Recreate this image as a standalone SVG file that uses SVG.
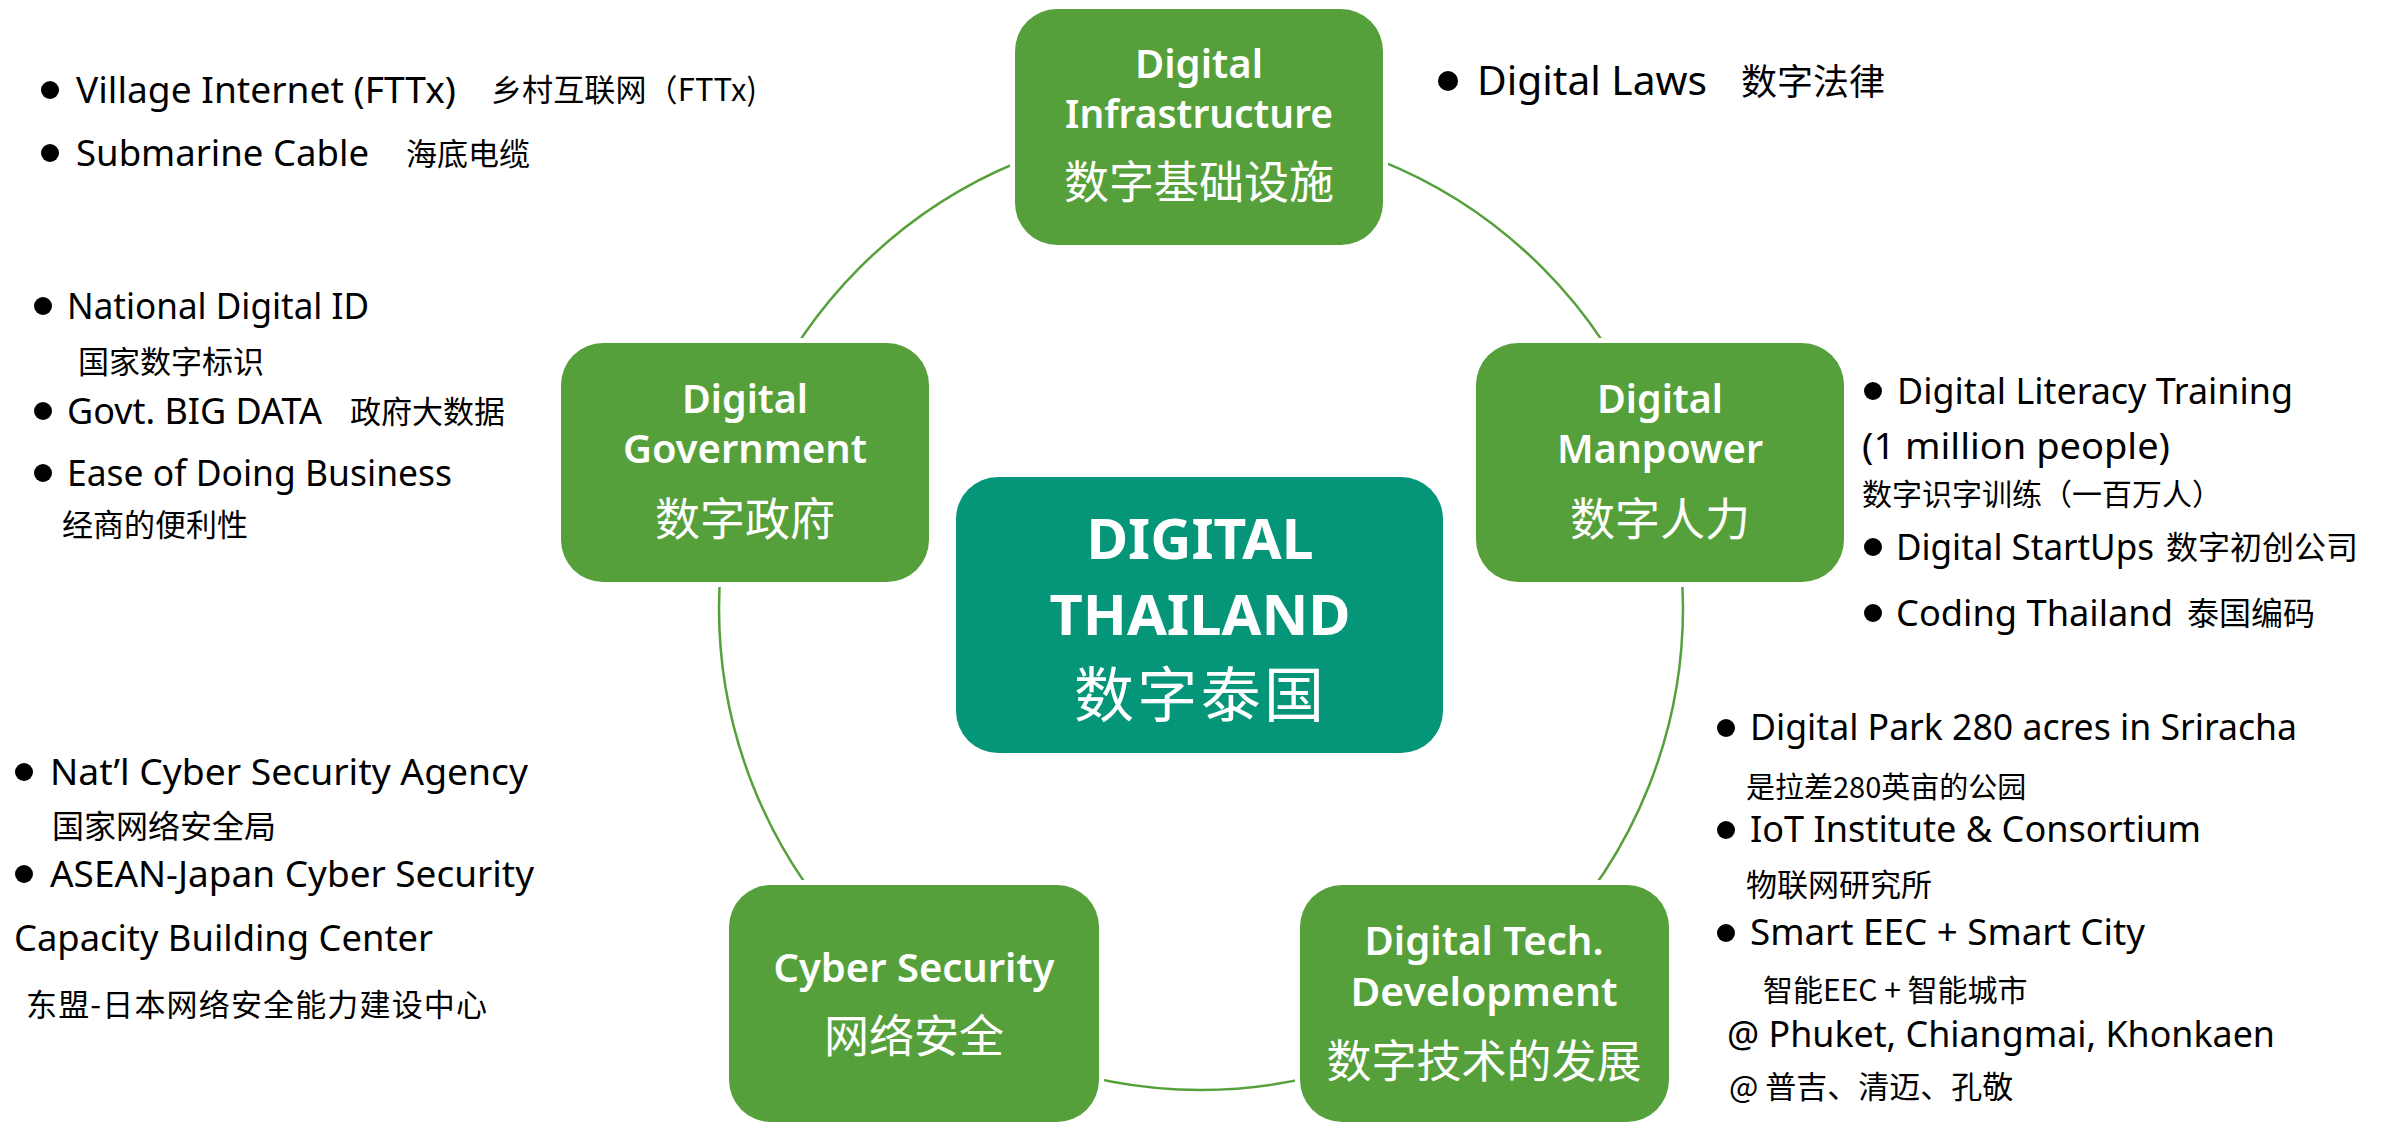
<svg xmlns="http://www.w3.org/2000/svg" width="2384" height="1122" viewBox="0 0 2384 1122">
<style>
.bg{fill:#ffffff}
.ring{fill:none;stroke:#56A03B;stroke-width:2.5}
.node{fill:#56A03B;stroke:#ffffff;stroke-width:10;paint-order:stroke}
.hub{fill:#05967A;stroke:#ffffff;stroke-width:10;paint-order:stroke}
.t{fill:#ffffff;font-family:"Noto Sans","Open Sans",sans-serif;font-weight:600;font-size:40px;text-anchor:middle}
.tc{fill:#ffffff;font-family:"Noto Sans CJK SC",sans-serif;font-size:45px;text-anchor:middle}
.h{fill:#ffffff;font-family:"Noto Sans","Open Sans",sans-serif;font-weight:700;font-size:56px;text-anchor:middle}
.hc{fill:#ffffff;font-family:"Noto Sans CJK SC",sans-serif;font-size:60px;text-anchor:middle}
.en{fill:#000000;font-family:"Noto Sans","Open Sans",sans-serif;font-size:36px}
.cn{fill:#000000;font-family:"Noto Sans CJK SC",sans-serif;font-size:30px}
.dot{fill:#000000}
</style>
<rect class="bg" x="0" y="0" width="2384" height="1122"/>
<g id="connectors">
<circle class="ring" cx="1201" cy="608" r="482"/>
</g>
<g id="node-infrastructure">
<rect class="node" x="1015" y="9" width="368" height="236" rx="42"/>
<text class="t" x="1199" y="78" textLength="128" lengthAdjust="spacingAndGlyphs">Digital</text>
<text class="t" x="1199" y="128" textLength="268" lengthAdjust="spacingAndGlyphs">Infrastructure</text>
<text class="tc" x="1199" y="199">数字基础设施</text>
</g>
<g id="node-government">
<rect class="node" x="561" y="343" width="368" height="239" rx="42"/>
<text class="t" x="745" y="413" textLength="126" lengthAdjust="spacingAndGlyphs">Digital</text>
<text class="t" x="745" y="463" textLength="244" lengthAdjust="spacingAndGlyphs">Government</text>
<text class="tc" x="745" y="536">数字政府</text>
</g>
<g id="node-manpower">
<rect class="node" x="1476" y="343" width="368" height="239" rx="42"/>
<text class="t" x="1660" y="413" textLength="126" lengthAdjust="spacingAndGlyphs">Digital</text>
<text class="t" x="1660" y="463" textLength="206" lengthAdjust="spacingAndGlyphs">Manpower</text>
<text class="tc" x="1660" y="536">数字人力</text>
</g>
<g id="node-thailand">
<rect class="hub" x="956" y="477" width="487" height="276" rx="42"/>
<text class="h" x="1200" y="559" textLength="227" lengthAdjust="spacingAndGlyphs">DIGITAL</text>
<text class="h" x="1200" y="635" textLength="301" lengthAdjust="spacingAndGlyphs">THAILAND</text>
<text class="hc" x="1199" y="717" textLength="250">数字泰国</text>
</g>
<g id="node-cyber">
<rect class="node" x="729" y="885" width="370" height="237" rx="42"/>
<text class="t" x="914" y="982" textLength="281" lengthAdjust="spacingAndGlyphs">Cyber Security</text>
<text class="tc" x="914" y="1053">网络安全</text>
</g>
<g id="node-techdev">
<rect class="node" x="1300" y="885" width="369" height="237" rx="42"/>
<text class="t" x="1484" y="955" textLength="239" lengthAdjust="spacingAndGlyphs">Digital Tech.</text>
<text class="t" x="1484" y="1006" textLength="267" lengthAdjust="spacingAndGlyphs">Development</text>
<text class="tc" x="1484" y="1078">数字技术的发展</text>
</g>
<g id="notes-infrastructure">
<circle class="dot" cx="50" cy="90" r="9"/>
<text class="en" x="76" y="103" textLength="380" lengthAdjust="spacingAndGlyphs">Village Internet (FTTx)</text>
<text class="cn" x="491" y="101" style="font-size:31px" textLength="266">乡村互联网（FTTx)</text>
<circle class="dot" cx="50" cy="153" r="9"/>
<text class="en" x="76" y="166" textLength="293" lengthAdjust="spacingAndGlyphs">Submarine Cable</text>
<text class="cn" x="406" y="165" style="font-size:31px">海底电缆</text>
</g>
<g id="notes-laws">
<circle class="dot" cx="1448" cy="81" r="10"/>
<text class="en" x="1477" y="95" style="font-size:40px" textLength="230" lengthAdjust="spacingAndGlyphs">Digital Laws</text>
<text class="cn" x="1741" y="95" style="font-size:36px">数字法律</text>
</g>
<g id="notes-government">
<circle class="dot" cx="43" cy="306" r="9"/>
<text class="en" x="67" y="319" textLength="302" lengthAdjust="spacingAndGlyphs">National Digital ID</text>
<text class="cn" x="78" y="373" style="font-size:31px">国家数字标识</text>
<circle class="dot" cx="43" cy="411" r="9"/>
<text class="en" x="67" y="424" textLength="255" lengthAdjust="spacingAndGlyphs">Govt. BIG DATA</text>
<text class="cn" x="350" y="423" style="font-size:31px">政府大数据</text>
<circle class="dot" cx="43" cy="473" r="9"/>
<text class="en" x="67" y="486" textLength="385" lengthAdjust="spacingAndGlyphs">Ease of Doing Business</text>
<text class="cn" x="62" y="536" style="font-size:31px">经商的便利性</text>
</g>
<g id="notes-cyber">
<circle class="dot" cx="24" cy="772" r="9"/>
<text class="en" x="50" y="785" textLength="478" lengthAdjust="spacingAndGlyphs">Nat’l Cyber Security Agency</text>
<text class="cn" x="52" y="838" style="font-size:32px">国家网络安全局</text>
<circle class="dot" cx="24" cy="874" r="9"/>
<text class="en" x="50" y="887" textLength="484" lengthAdjust="spacingAndGlyphs">ASEAN-Japan Cyber Security</text>
<text class="en" x="14" y="951" textLength="419" lengthAdjust="spacingAndGlyphs">Capacity Building Center</text>
<text class="cn" x="26" y="1016" style="font-size:31px" textLength="461">东盟-日本网络安全能力建设中心</text>
</g>
<g id="notes-manpower">
<circle class="dot" cx="1873" cy="391" r="9"/>
<text class="en" x="1897" y="404" textLength="396" lengthAdjust="spacingAndGlyphs">Digital Literacy Training</text>
<text class="en" x="1862" y="459" textLength="308" lengthAdjust="spacingAndGlyphs">(1 million people)</text>
<text class="cn" x="1862" y="505">数字识字训练（一百万人）</text>
<circle class="dot" cx="1873" cy="547" r="9"/>
<text class="en" x="1896" y="560" textLength="258" lengthAdjust="spacingAndGlyphs">Digital StartUps</text>
<text class="cn" x="2166" y="559" style="font-size:32px">数字初创公司</text>
<circle class="dot" cx="1873" cy="613" r="9"/>
<text class="en" x="1896" y="626" textLength="277" lengthAdjust="spacingAndGlyphs">Coding Thailand</text>
<text class="cn" x="2187" y="625" style="font-size:32px">泰国编码</text>
</g>
<g id="notes-techdev">
<circle class="dot" cx="1726" cy="728" r="9"/>
<text class="en" x="1750" y="740" textLength="547" lengthAdjust="spacingAndGlyphs">Digital Park 280 acres in Sriracha</text>
<text class="cn" x="1746" y="798" style="font-size:29px">是拉差280英亩的公园</text>
<circle class="dot" cx="1726" cy="830" r="9"/>
<text class="en" x="1750" y="842" textLength="451" lengthAdjust="spacingAndGlyphs">IoT Institute &amp; Consortium</text>
<text class="cn" x="1746" y="896" style="font-size:31px">物联网研究所</text>
<circle class="dot" cx="1726" cy="933" r="9"/>
<text class="en" x="1750" y="945" textLength="395" lengthAdjust="spacingAndGlyphs">Smart EEC + Smart City</text>
<text class="cn" x="1763" y="1001">智能EEC + 智能城市</text>
<text class="en" x="1727" y="1047" textLength="548" lengthAdjust="spacingAndGlyphs">@ Phuket, Chiangmai, Khonkaen</text>
<text class="cn" x="1729" y="1098" style="font-size:31px">@ 普吉、清迈、孔敬</text>
</g>
</svg>
